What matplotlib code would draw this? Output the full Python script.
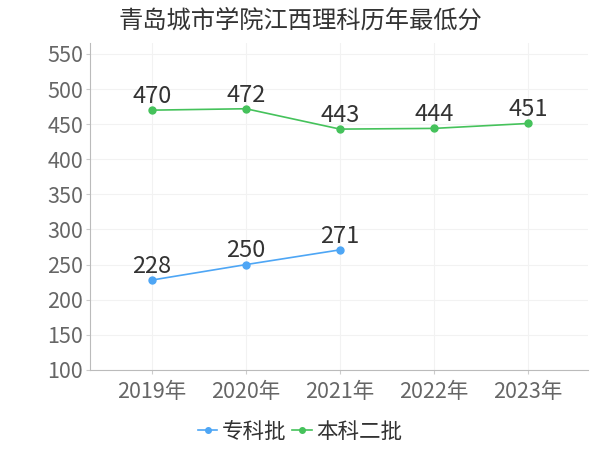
import matplotlib
matplotlib.use('Agg')
import matplotlib.pyplot as plt

plt.rcParams['font.family'] = ['Noto Sans CJK SC', 'DejaVu Sans']

years = ['2019年', '2020年', '2021年', '2022年', '2023年']
zhuanke = [228, 250, 271]          # 专科批
benke2 = [470, 472, 443, 444, 451]  # 本科二批
yticks = [100, 150, 200, 250, 300, 350, 400, 450, 500, 550]

blue = '#4ea6f5'
green = '#45c25b'

fig = plt.figure(figsize=(6, 4.5), dpi=100)
ax = fig.add_axes([0.15, 0.178, 0.83, 0.727])

x1 = list(range(len(zhuanke)))
x2 = list(range(len(benke2)))
ax.plot(x1, zhuanke, color=blue, lw=1.2, marker='o', ms=5, label='专科批', zorder=3)
ax.plot(x2, benke2, color=green, lw=1.2, marker='o', ms=5, label='本科二批', zorder=3)

for x, v in zip(x1, zhuanke):
    ax.text(x, v + 3, str(v), ha='center', va='bottom', fontsize=17, color='#333333')
for x, v in zip(x2, benke2):
    ax.text(x, v + 3, str(v), ha='center', va='bottom', fontsize=17, color='#333333')

ax.set_xlim(-0.66, 4.64)
ax.set_ylim(100, 566)
ax.set_xticks(x2)
ax.set_xticklabels(years)
ax.set_yticks(yticks)
ax.tick_params(axis='both', labelsize=15.5, colors='#666666', length=3, width=0.8)
ax.tick_params(axis='x', pad=5, color='#cccccc')
ax.tick_params(axis='y', pad=2, color='#cccccc')

ax.grid(True, color='#f2f2f2', lw=0.8)
ax.set_axisbelow(True)
for s in ['top', 'right']:
    ax.spines[s].set_visible(False)
ax.spines['left'].set_color('#bbbbbb')
ax.spines['bottom'].set_color('#bbbbbb')

fig.text(0.5, 0.953, '青岛城市学院江西理科历年最低分', ha='center', va='center',
         fontsize=17.5, color='#333333')

fig.legend(loc='center', bbox_to_anchor=(0.5, 0.04), ncol=2, frameon=False,
           fontsize=15.5, handlelength=0.9, handletextpad=0.2, columnspacing=0.3,
           markerscale=0.8, labelcolor='#333333')

fig.savefig('out.png', dpi=100)
